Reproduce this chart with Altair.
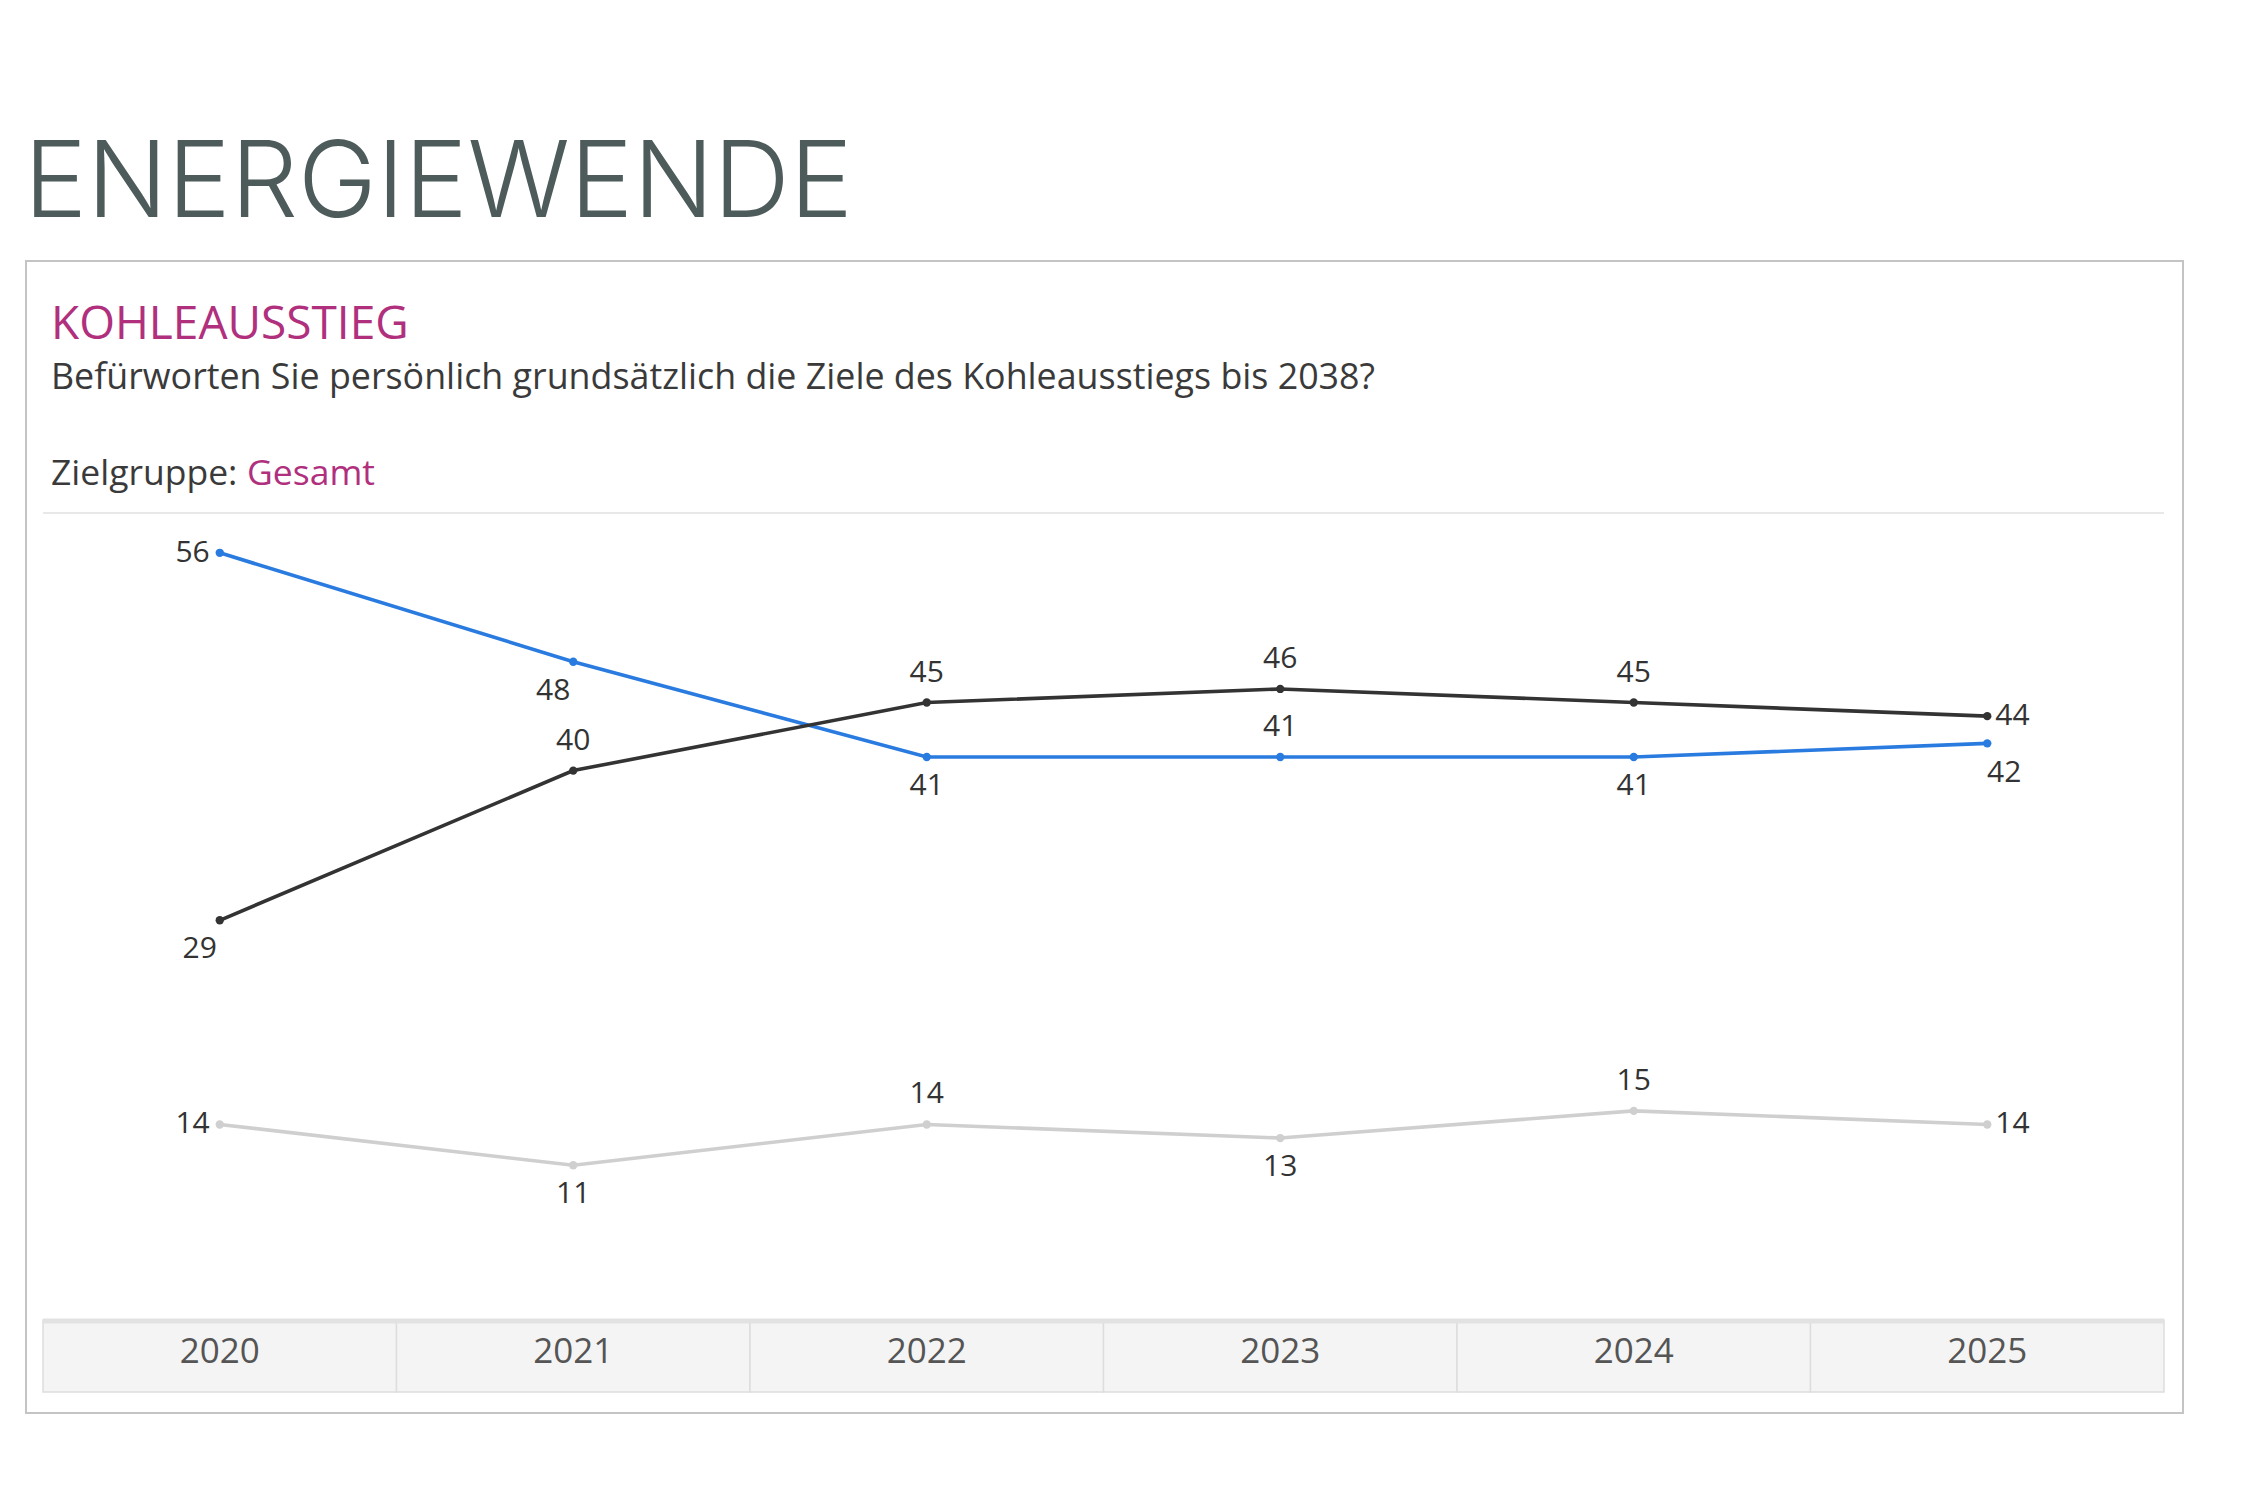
import altair as alt
import pandas as pd

# ---- data ----
years = ["2020", "2021", "2022", "2023", "2024", "2025"]
series_names = ["Befürworte", "Lehne ab", "Weiß nicht"]
befuerworte = [56, 48, 41, 41, 41, 42]
lehne_ab = [29, 40, 45, 46, 45, 44]
weiss_nicht = [14, 11, 14, 13, 15, 14]
series_colors = ["#2a7be0", "#333333", "#cfcfcf"]

# label placement per point (style only)
place_befuerworte = ["left", "below-left", "below", "above", "below", "below-right"]
place_lehne_ab = ["below-left", "above", "above", "above", "above", "right"]
place_weiss_nicht = ["left", "below", "above", "below", "above", "right"]

rows = []
for name, vals, places in [
    (series_names[0], befuerworte, place_befuerworte),
    (series_names[1], lehne_ab, place_lehne_ab),
    (series_names[2], weiss_nicht, place_weiss_nicht),
]:
    for y, v, p in zip(years, vals, places):
        rows.append({"year": y, "series": name, "value": v, "place": p})
df = pd.DataFrame(rows)
year_df = pd.DataFrame({"year": years})
one = pd.DataFrame({"a": [0]})

W, H = 2121, 803
FONT = "Open Sans"

xscale = alt.Scale(type="band", domain=years, paddingInner=0, paddingOuter=0)
yscale = alt.Scale(domain=[0, 59], nice=False, zero=True)
X = alt.X("year:N", scale=xscale, axis=None)
Y = alt.Y("value:Q", scale=yscale, axis=None)
color = alt.Color("series:N", scale=alt.Scale(domain=series_names, range=series_colors), legend=None)

# frame and decorations
box = alt.Chart(one).mark_rect(fill="white", fillOpacity=0, stroke="#c4c4c4", strokeWidth=2).encode(
    x=alt.value(-17), x2=alt.value(2140), y=alt.value(-251), y2=alt.value(901))
sep = alt.Chart(one).mark_rule(color="#e8e8e8", strokeWidth=2).encode(
    x=alt.value(0), x2=alt.value(W), y=alt.value(1))

title = alt.Chart(one).mark_text(text="ENERGIEWENDE", font="Inter", fontWeight=300, fontSize=106,
                                 color="#4d5b5a", align="left", baseline="alphabetic").encode(
    x=alt.value(-19), y=alt.value(-295))
kohle = alt.Chart(one).mark_text(text="KOHLEAUSSTIEG", font=FONT, fontSize=46, color="#b0307e",
                                 align="left", baseline="alphabetic").encode(
    x=alt.value(8), y=alt.value(-173))
question = alt.Chart(one).mark_text(
    text="Befürworten Sie persönlich grundsätzlich die Ziele des Kohleausstiegs bis 2038?",
    font=FONT, fontSize=35.8, color="#3a3a3a", align="left", baseline="alphabetic").encode(
    x=alt.value(8), y=alt.value(-123))
ziel = alt.Chart(one).mark_text(text="Zielgruppe:", font=FONT, fontSize=35.5, color="#3a3a3a",
                                align="left", baseline="alphabetic").encode(
    x=alt.value(8), y=alt.value(-27))
gesamt = alt.Chart(one).mark_text(text="Gesamt", font=FONT, fontSize=35.5, color="#b0307e",
                                  align="left", baseline="alphabetic").encode(
    x=alt.value(204), y=alt.value(-27))

# year band at the bottom
band = alt.Chart(year_df).mark_rect(fill="#f4f4f4", stroke="#dddddd", strokeWidth=1.5).encode(
    x=X, y=alt.value(808), y2=alt.value(880))
band_top = alt.Chart(one).mark_rule(color="#e2e2e2", strokeWidth=5).encode(
    x=alt.value(0), x2=alt.value(W), y=alt.value(809))
band_text = alt.Chart(year_df).mark_text(font=FONT, fontSize=35, color="#555555",
                                         baseline="middle").encode(
    x=X, y=alt.value(840), text="year:N")

base = alt.Chart(df)
lines = base.mark_line(strokeWidth=3.6).encode(x=X, y=Y, color=color, detail="series:N")
points = base.mark_point(filled=True, size=70, opacity=1).encode(x=X, y=Y, color=color)

label_style = {
    "above": dict(dx=0, dy=-30, align="center"),
    "below": dict(dx=0, dy=29, align="center"),
    "left": dict(dx=-10, dy=0, align="right"),
    "right": dict(dx=8, dy=0, align="left"),
    "below-left": dict(dx=-20, dy=29, align="center"),
    "below-right": dict(dx=17, dy=30, align="center"),
}
labels = []
for p, st in label_style.items():
    labels.append(
        base.transform_filter(alt.datum.place == p).mark_text(
            font=FONT, fontSize=30, color="#333333", baseline="middle", **st
        ).encode(x=X, y=Y, text="value:Q")
    )

chart = alt.layer(
    box, sep, title, kohle, question, ziel, gesamt, band, band_top, band_text,
    lines, points, *labels
).properties(
    width=W, height=H,
    background="white",
    padding={"left": 35, "top": 504, "right": 70, "bottom": 100},
    autosize=alt.AutoSizeParams(type="none"),
).configure_view(stroke="transparent", strokeWidth=0)

chart.save("out.html", embed_options={"renderer": "svg", "actions": False})
